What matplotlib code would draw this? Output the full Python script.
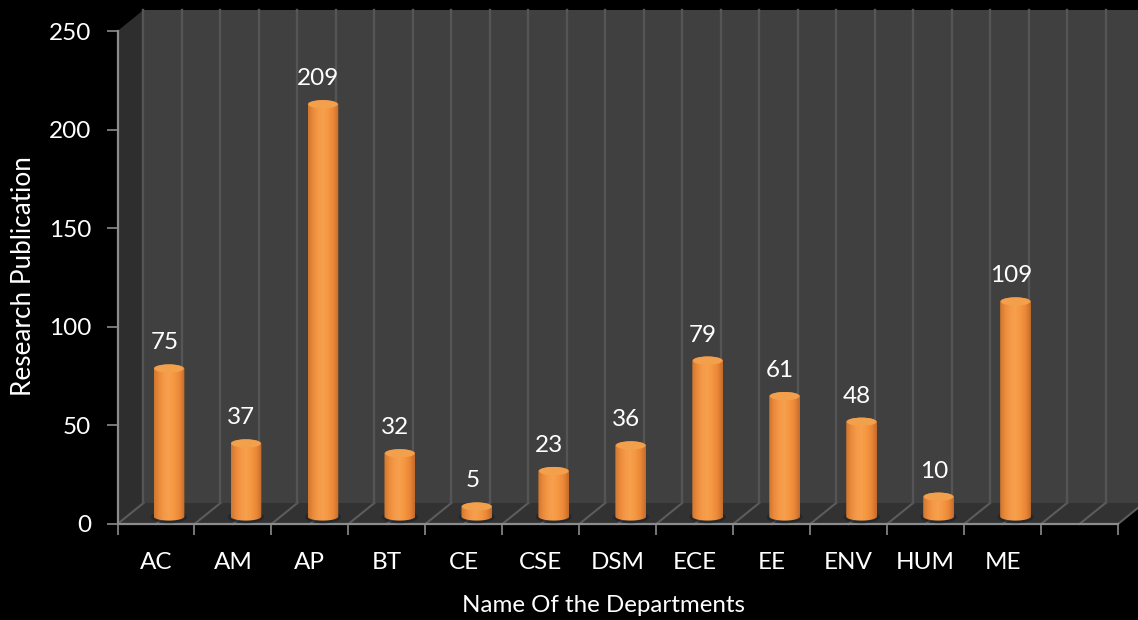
import numpy as np
import matplotlib
matplotlib.use('Agg')
import matplotlib.pyplot as plt
from matplotlib.colors import LinearSegmentedColormap
from matplotlib.patches import Ellipse, Polygon

departments = ['AC', 'AM', 'AP', 'BT', 'CE', 'CSE', 'DSM', 'ECE', 'EE', 'ENV', 'HUM', 'ME']
publications = [75, 37, 209, 32, 5, 23, 36, 79, 61, 48, 10, 109]
y_ticks = [0, 50, 100, 150, 200, 250]

N_SLOTS = 13
WIDTH, HEIGHT = 1138, 620
# depth of the 3d box, in axis units
DEPTH_X = 26 / 77
DEPTH_Y = 21 / 1.972
BAR_W = 0.4
CAP_H = 4.2

plt.rcParams['font.family'] = ['Lato', 'DejaVu Sans']

body_cmap = LinearSegmentedColormap.from_list(
    'body', ['#cf7630', '#ec8b3b', '#f59a48', '#f7a04e', '#f4963f', '#ea8738', '#c46c2b'])


def draw_wall(ax, corners, color):
    ax.add_patch(Polygon(corners, closed=True, fc=color, ec='none', clip_on=False, zorder=1))


def draw_cylinder(ax, x, value):
    # one cylinder standing in the middle of the box depth
    cx = x + DEPTH_X / 2
    base = DEPTH_Y / 2 - 1.5
    top = base + value
    t = np.linspace(0, np.pi, 40)
    xs = BAR_W / 2 * np.cos(t)
    ys = CAP_H / 2 * np.sin(t)

    ax.add_patch(Ellipse((cx, base - 0.3), BAR_W * 1.18, CAP_H * 1.5, fc='#1b2229',
                         ec='none', alpha=0.6, zorder=3))
    outline = np.vstack([np.column_stack([cx + xs, top + ys]),
                         np.column_stack([cx + xs[::-1], base - ys[::-1]])])
    shape = Polygon(outline, closed=True, fc='none', ec='none', zorder=4)
    ax.add_patch(shape)
    im = ax.imshow(np.linspace(0, 1, 64).reshape(1, -1), cmap=body_cmap, aspect='auto',
                   extent=[cx - BAR_W / 2, cx + BAR_W / 2, base - CAP_H, top + CAP_H],
                   zorder=4, interpolation='bilinear')
    im.set_clip_path(shape)
    ax.add_patch(Ellipse((cx, top), BAR_W * 0.96, CAP_H, fc='#f2a04c', ec='none', zorder=5))


fig = plt.figure(figsize=(WIDTH / 100, HEIGHT / 100), dpi=100, facecolor='black')
ax = fig.add_axes([117.5 / WIDTH, (HEIGHT - 524) / HEIGHT, 1000.5 / WIDTH, 493 / HEIGHT])
ax.set_facecolor('none')

# walls and floor of the box
draw_wall(ax, [(DEPTH_X, DEPTH_Y), (N_SLOTS + DEPTH_X, DEPTH_Y),
               (N_SLOTS + DEPTH_X, 250 + DEPTH_Y), (DEPTH_X, 250 + DEPTH_Y)], '#404040')
draw_wall(ax, [(0, 0), (DEPTH_X, DEPTH_Y), (DEPTH_X, 250 + DEPTH_Y), (0, 250)], '#2e2e2e')
draw_wall(ax, [(0, 0), (N_SLOTS, 0), (N_SLOTS + DEPTH_X, DEPTH_Y), (DEPTH_X, DEPTH_Y)], '#323232')

# grid runs across the floor and up the back wall
for g in np.arange(0, N_SLOTS + 0.5, 0.5):
    ax.plot([g, g + DEPTH_X], [0, DEPTH_Y], color='#5c5c5c', lw=1.5, clip_on=False, zorder=2)
    ax.plot([g + DEPTH_X, g + DEPTH_X], [DEPTH_Y, 250 + DEPTH_Y], color='#555555', lw=1.7,
            clip_on=False, zorder=2)

positions = np.arange(len(departments)) + 0.5
for x, value in zip(positions, publications):
    draw_cylinder(ax, x, value)
    ax.text(x + 0.11, value + DEPTH_Y / 2 + 11.5, str(value), color='white', fontsize=17.5,
            ha='center', va='center', zorder=6)

ax.set_xlim(0, N_SLOTS)
ax.set_ylim(0, 250)
ax.set_xticks(np.arange(0, N_SLOTS + 1))
ax.set_xticklabels([])
ax.set_xticks(positions, minor=True)
ax.set_xticklabels(departments, minor=True)
ax.set_yticks(y_ticks)
ax.tick_params(axis='x', which='major', length=8, width=1.2, color='#8c8c8c')
ax.tick_params(axis='x', which='minor', length=0, pad=20, labelsize=17.5, labelcolor='white')
ax.tick_params(axis='y', length=8, width=1.2, color='#8c8c8c', labelsize=17.5, labelcolor='white', pad=11)

for side in ['top', 'right']:
    ax.spines[side].set_visible(False)
for side in ['left', 'bottom']:
    ax.spines[side].set_color('#8c8c8c')
    ax.spines[side].set_linewidth(1.6)

fig.text(604 / WIDTH, 1 - 606 / HEIGHT, 'Name Of the Departments', color='white', fontsize=17.4,
         ha='center', va='center')
fig.text(24 / WIDTH, 1 - 276 / HEIGHT, 'Research Publication', color='white', fontsize=18.8,
         rotation=90, ha='center', va='center')

fig.savefig('out.png', dpi=100, facecolor='black')
